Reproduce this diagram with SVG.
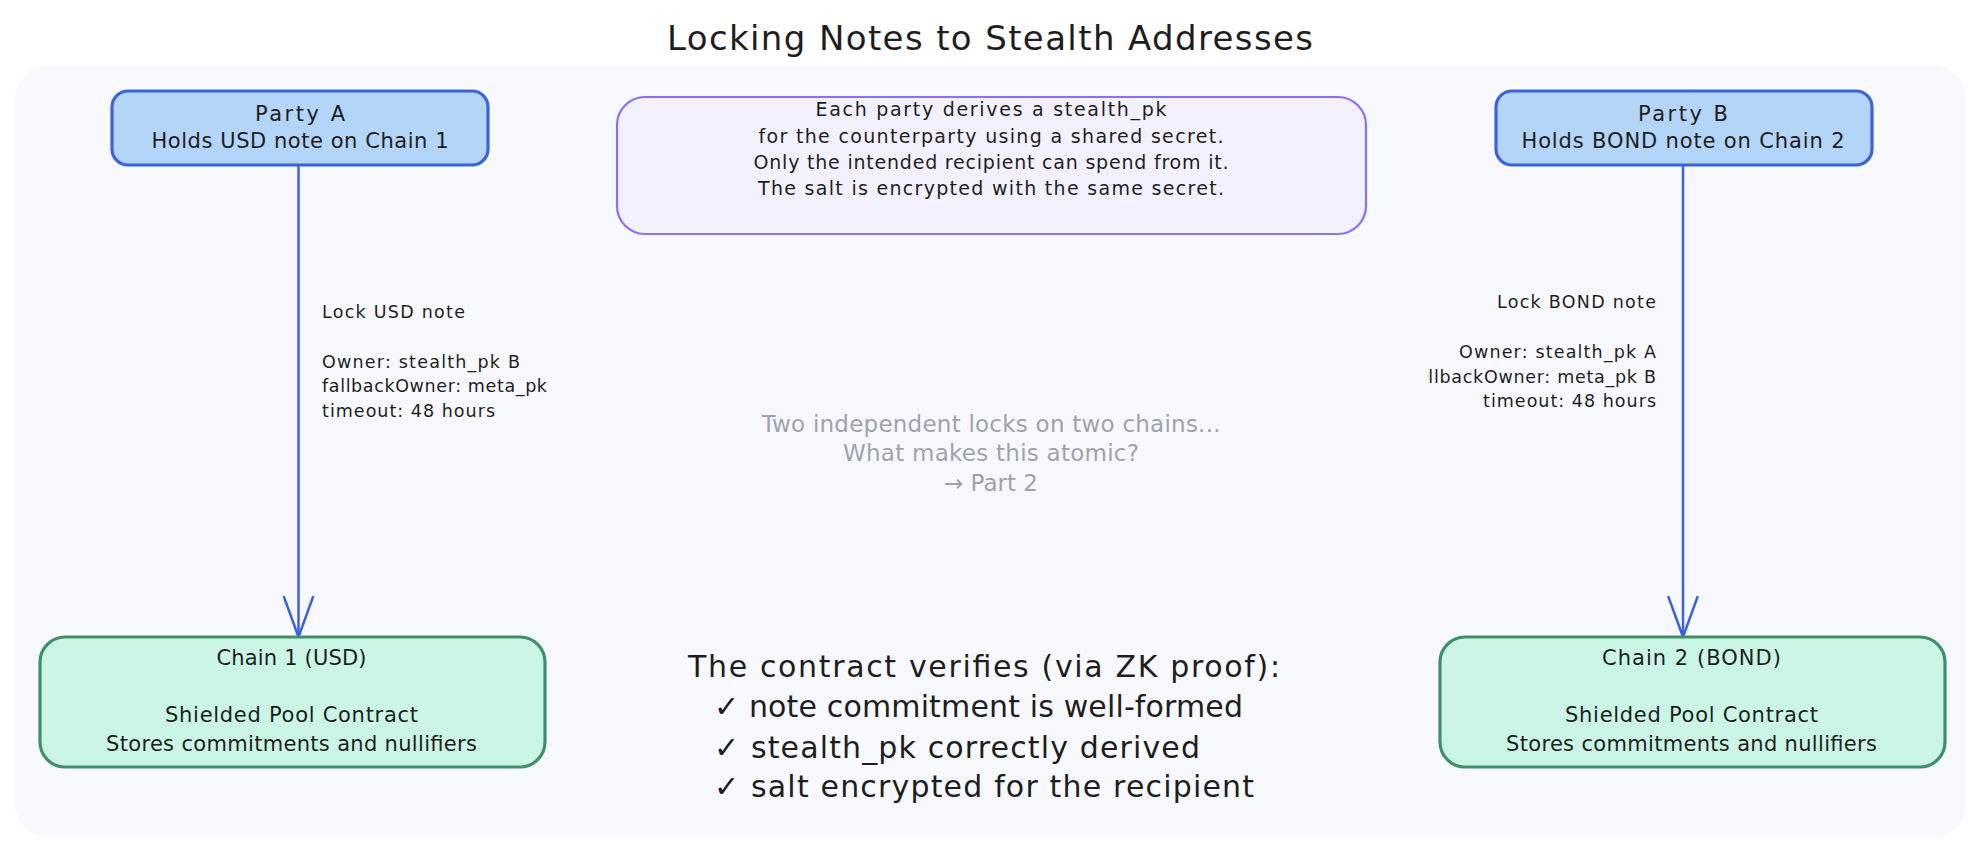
<svg xmlns="http://www.w3.org/2000/svg" width="1986" height="852" viewBox="0 0 1986 852">
<style>
text { font-family: "DejaVu Sans", "Liberation Sans", sans-serif; fill: #1e1e1e; }
.title { font-size: 34px; text-anchor: middle; }
.party rect { fill: #b2d5f8; stroke: #3c62dd; stroke-width: 3.2; }
.party text { font-size: 21px; text-anchor: middle; }
.chain rect { fill: #cbf6e6; stroke: #3f9068; stroke-width: 3.2; }
.chain text { font-size: 21px; text-anchor: middle; }
.note rect { fill: #f4f1fe; stroke: #8e6ff0; stroke-width: 2.2; }
.note text { font-size: 19px; text-anchor: middle; }
.lbl { font-size: 17.5px; }
.gray { font-size: 23px; text-anchor: middle; fill: #9ca3af; }
.big { font-size: 30px; }
.conn line { stroke: #3c62dd; stroke-width: 2.5; stroke-linecap: round; }
</style>
<defs>
<marker id="open" markerUnits="userSpaceOnUse" viewBox="-45 -20 50 40" markerWidth="50" markerHeight="40" refX="0" refY="0" orient="auto" overflow="visible">
<path d="M-40,-14.5 L0,0 L-40,14.5" fill="none" stroke="#3c62dd" stroke-width="2.5" stroke-linecap="round" stroke-linejoin="round"/>
</marker>
<clipPath id="clipB"><rect x="1428" y="360" width="300" height="40"/></clipPath>
</defs>
<rect x="0" y="0" width="1986" height="852" fill="#ffffff"/>
<rect id="panel" x="15" y="66" width="1951" height="771" rx="32" fill="#f8f9fe"/>
<text class="title" x="990" y="50" textLength="646">Locking Notes to Stealth Addresses</text>

<g id="conn" class="conn">
<line x1="298.5" y1="166" x2="298.5" y2="637" marker-end="url(#open)"/>
<line x1="1683" y1="166" x2="1683" y2="637" marker-end="url(#open)"/>
</g>

<g id="partyA" class="party">
<rect x="112" y="91" width="376" height="74" rx="16"/>
<text x="300" y="121" textLength="90">Party A</text>
<text x="300" y="148" textLength="297">Holds USD note on Chain 1</text>
</g>

<g id="partyB" class="party">
<rect x="1496" y="91" width="376" height="74" rx="16"/>
<text x="1683" y="121" textLength="90">Party B</text>
<text x="1683" y="148" textLength="323">Holds BOND note on Chain 2</text>
</g>

<g id="stealthNote" class="note">
<rect x="617" y="97" width="749" height="137" rx="28"/>
<text x="991" y="116" textLength="351">Each party derives a stealth_pk</text>
<text x="991" y="142.5" textLength="465">for the counterparty using a shared secret.</text>
<text x="991" y="169" textLength="475">Only the intended recipient can spend from it.</text>
<text x="991" y="195" textLength="466">The salt is encrypted with the same secret.</text>
</g>

<g id="labelA">
<text class="lbl" x="322" y="317.5" textLength="143">Lock USD note</text>
<text class="lbl" x="322" y="367.5" textLength="198">Owner: stealth_pk B</text>
<text class="lbl" x="322" y="392" textLength="225">fallbackOwner: meta_pk</text>
<text class="lbl" x="322" y="417" textLength="173">timeout: 48 hours</text>
</g>

<g id="labelB">
<text class="lbl" x="1656" y="308.3" text-anchor="end" textLength="159">Lock BOND note</text>
<text class="lbl" x="1656" y="358" text-anchor="end" textLength="197">Owner: stealth_pk A</text>
<text class="lbl" x="1656" y="382.5" text-anchor="end" textLength="246" clip-path="url(#clipB)">fallbackOwner: meta_pk B</text>
<text class="lbl" x="1656" y="407" text-anchor="end" textLength="173">timeout: 48 hours</text>
</g>

<g id="question">
<text class="gray" x="991" y="432" textLength="459">Two independent locks on two chains...</text>
<text class="gray" x="991" y="461" textLength="296">What makes this atomic?</text>
<text class="gray" x="991" y="491">→ Part 2</text>
</g>

<g id="chain1" class="chain">
<rect x="40" y="637" width="505" height="130" rx="25"/>
<text x="291.5" y="665" textLength="150">Chain 1 (USD)</text>
<text x="291.5" y="722" textLength="253">Shielded Pool Contract</text>
<text x="291.5" y="750.5" textLength="371">Stores commitments and nullifiers</text>
</g>

<g id="chain2" class="chain">
<rect x="1440" y="637" width="505" height="130" rx="25"/>
<text x="1691.5" y="665" textLength="179">Chain 2 (BOND)</text>
<text x="1691.5" y="722" textLength="253">Shielded Pool Contract</text>
<text x="1691.5" y="750.5" textLength="371">Stores commitments and nullifiers</text>
</g>

<g id="verifies">
<text class="big" x="688" y="677" textLength="592">The contract verifies (via ZK proof):</text>
<text class="big" x="714" y="717" textLength="529">✓ note commitment is well-formed</text>
<text class="big" x="714" y="758" textLength="486">✓ stealth_pk correctly derived</text>
<text class="big" x="714" y="797" textLength="540">✓ salt encrypted for the recipient</text>
</g>
</svg>
